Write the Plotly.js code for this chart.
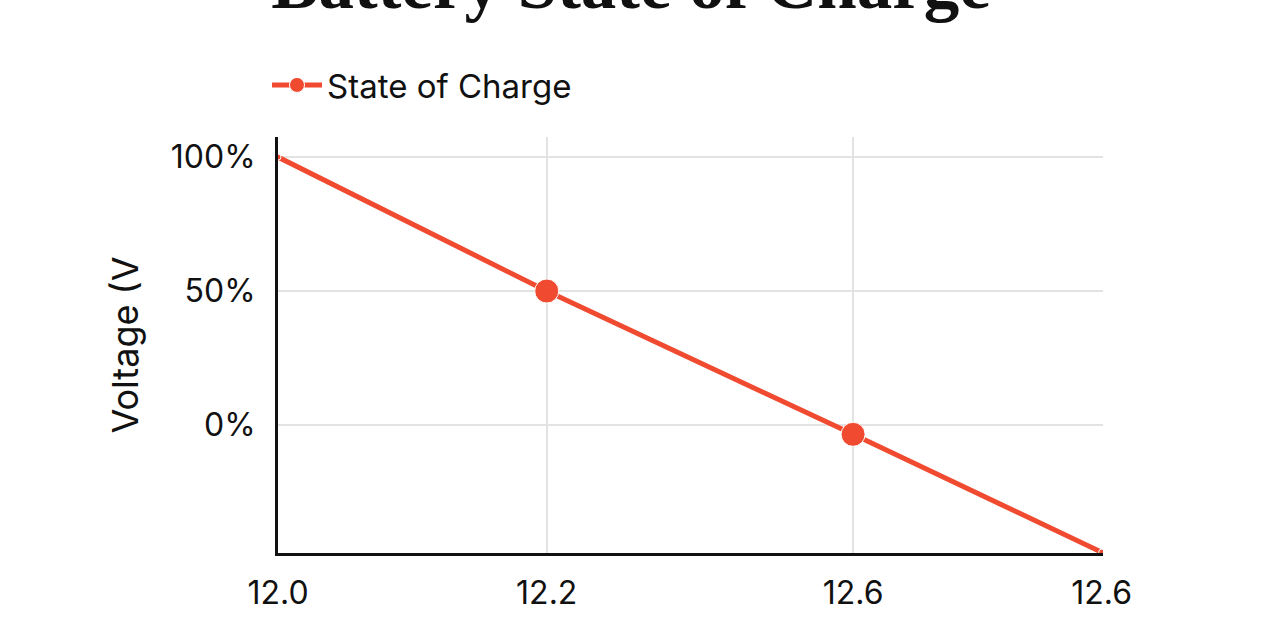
<!DOCTYPE html>
<html>
<head>
<meta charset="utf-8">
<script src="https://cdn.plot.ly/plotly-3.0.1.min.js"></script>
<style>html,body{margin:0;padding:0;background:#fff;}#chart{width:1280px;height:640px;}</style>
</head>
<body>
<div id="chart"></div>
<script>
// Data
const voltagePos = [12.0, 12.2, 12.428, 12.613];
const tickLabels = ["12.0", "12.2", "12.6", "12.6"];
const stateOfCharge = [100, 50, -3.5, -47.5];
const markerSizes = [6, 24, 24, 6];
const yTickVals = [0, 50, 100];
const yTickText = ["0%", "50%", "100%"];
const gridVoltages = [12.2, 12.428];

const red = "#F04A30";
const font = "Inter, Roboto, sans-serif";

const traces = [
  {
    x: voltagePos, y: stateOfCharge, name: "State of Charge",
    type: "scatter", mode: "lines+markers",
    line: {color: red, width: 5},
    marker: {color: red, size: markerSizes, opacity: 1},
    hoverinfo: "skip"
  },
  {
    x: gridVoltages, y: [null, null], xaxis: "x2", yaxis: "y",
    type: "scatter", mode: "lines", showlegend: false, hoverinfo: "skip"
  }
];

const layout = {
  width: 1280, height: 640,
  paper_bgcolor: "#fff", plot_bgcolor: "#fff",
  margin: {l: 278, r: 177, t: 137, b: 87},
  font: {family: font, size: 32, color: "#111"},
  title: {
    text: "<b>Battery State of Charge</b>",
    font: {family: "'Liberation Serif', 'DejaVu Serif', serif", size: 71, color: "#111"},
    xref: "container", yref: "container", x: 0.493, xanchor: "center",
    y: 1 - 8/640, yanchor: "bottom"
  },
  showlegend: true,
  legend: {
    xref: "container", yref: "container", x: 267/1280, xanchor: "left",
    y: 1 - 85/640, yanchor: "middle", orientation: "h", itemwidth: 50,
    font: {family: font, size: 33, color: "#111"}, bgcolor: "rgba(0,0,0,0)"
  },
  xaxis: {
    range: [12.0, 12.614], tickmode: "array", tickvals: voltagePos, ticktext: tickLabels,
    showgrid: false, zeroline: false, showline: true, linecolor: "#111", linewidth: 3,
    ticks: "", ticklabelstandoff: 10, tickfont: {size: 32, color: "#111"}
  },
  xaxis2: {
    overlaying: "x", matches: "x", range: [12.0, 12.614], tickmode: "array", tickvals: gridVoltages,
    showticklabels: false, showgrid: true, gridcolor: "#e3e3e3", gridwidth: 2,
    zeroline: false, showline: false, ticks: ""
  },
  yaxis: {
    range: [-47.8, 107.5], tickmode: "array", tickvals: yTickVals, ticktext: yTickText,
    showgrid: true, gridcolor: "#e3e3e3", gridwidth: 2, zeroline: false,
    showline: true, linecolor: "#111", linewidth: 3, ticks: "", ticklabelstandoff: 13,
    tickfont: {size: 32, color: "#111"},
    title: {text: "Voltage (V", font: {size: 36, color: "#111"}, standoff: 22}
  }
};

Plotly.newPlot("chart", traces, layout, {displayModeBar: false, staticPlot: true});
</script>
</body>
</html>
